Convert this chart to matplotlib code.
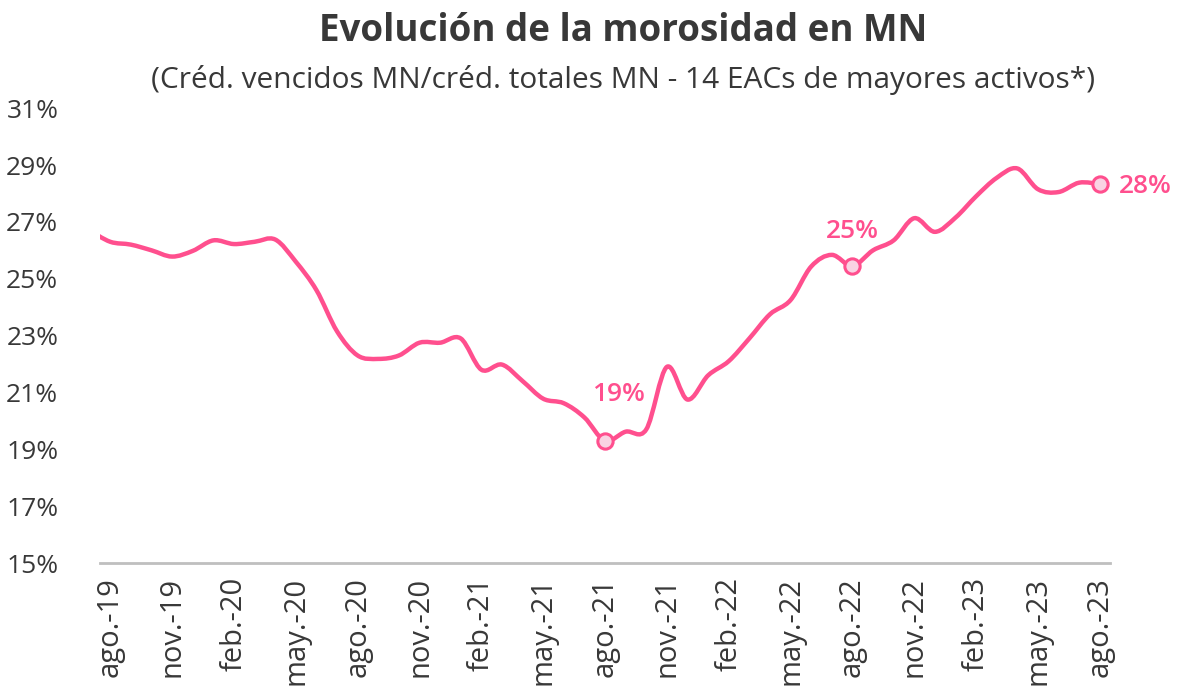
import matplotlib.pyplot as plt
import numpy as np
from matplotlib.path import Path
from matplotlib.patches import PathPatch

plt.rcParams['font.family'] = ['Open Sans', 'DejaVu Sans']

# serie mensual jul-19 .. ago-23 (en %)
months = ['jul.-19',
          'ago.-19', 'sep.-19', 'oct.-19', 'nov.-19', 'dic.-19', 'ene.-20',
          'feb.-20', 'mar.-20', 'abr.-20', 'may.-20', 'jun.-20', 'jul.-20',
          'ago.-20', 'sep.-20', 'oct.-20', 'nov.-20', 'dic.-20', 'ene.-21',
          'feb.-21', 'mar.-21', 'abr.-21', 'may.-21', 'jun.-21', 'jul.-21',
          'ago.-21', 'sep.-21', 'oct.-21', 'nov.-21', 'dic.-21', 'ene.-22',
          'feb.-22', 'mar.-22', 'abr.-22', 'may.-22', 'jun.-22', 'jul.-22',
          'ago.-22', 'sep.-22', 'oct.-22', 'nov.-22', 'dic.-22', 'ene.-23',
          'feb.-23', 'mar.-23', 'abr.-23', 'may.-23', 'jun.-23', 'jul.-23',
          'ago.-23']
morosidad = [26.7,
             26.3, 26.2, 26.0, 25.78, 25.98, 26.35,
             26.22, 26.3, 26.38, 25.6, 24.6, 23.15,
             22.3, 22.18, 22.3, 22.75, 22.75, 22.9,
             21.8, 21.98, 21.4, 20.78, 20.62, 20.12,
             19.3, 19.62, 19.7, 21.9, 20.75, 21.6,
             22.1, 22.9, 23.75, 24.25, 25.43, 25.84,
             25.45, 26.0, 26.35, 27.13, 26.65, 27.15,
             27.9, 28.55, 28.88, 28.15, 28.05, 28.38,
             28.33]
shown_ticks = ['ago.-19', 'nov.-19', 'feb.-20', 'may.-20', 'ago.-20', 'nov.-20',
               'feb.-21', 'may.-21', 'ago.-21', 'nov.-21', 'feb.-22', 'may.-22',
               'ago.-22', 'nov.-22', 'feb.-23', 'may.-23', 'ago.-23']

pink = '#FF4F8E'
grey_txt = '#383838'

x = np.arange(len(months)) - 1   # ago.-19 en x = 0
y = np.array(morosidad)


def smooth_path(xs, ys):
    # curva suavizada tipo Excel (Catmull-Rom -> Bezier)
    verts = [(xs[0], ys[0])]
    codes = [Path.MOVETO]
    n = len(xs)
    for i in range(n - 1):
        p0 = (xs[max(i - 1, 0)], ys[max(i - 1, 0)])
        p1 = (xs[i], ys[i])
        p2 = (xs[i + 1], ys[i + 1])
        p3 = (xs[min(i + 2, n - 1)], ys[min(i + 2, n - 1)])
        c1 = (p1[0] + (p2[0] - p0[0]) / 6, p1[1] + (p2[1] - p0[1]) / 6)
        c2 = (p2[0] - (p3[0] - p1[0]) / 6, p2[1] - (p3[1] - p1[1]) / 6)
        verts += [c1, c2, p2]
        codes += [Path.CURVE4] * 3
    return Path(verts, codes)


fig = plt.figure(figsize=(11.86, 6.98), dpi=100)
ax = fig.add_axes([0.0843, 0.1934, 0.8517, 0.6516])

ax.add_patch(PathPatch(smooth_path(x, y), facecolor='none', edgecolor=pink,
                       lw=3.2, capstyle='round', joinstyle='round', zorder=3))

# puntos destacados con etiqueta
for lab, off, ha in [('ago.-21', (10, 33), 'center'),
                     ('ago.-22', (0, 25), 'center'),
                     ('ago.-23', (14, -2), 'left')]:
    i = months.index(lab)
    ax.plot(x[i], y[i], 'o', ms=11, mfc='#F9D3E3', mec=pink, mew=2.2, zorder=4)
    ax.annotate(f'{y[i]:.0f}%', (x[i], y[i]), xytext=off, textcoords='offset points',
                ha=ha, va='center', color=pink, fontsize=19, fontweight='semibold')

ax.set_xlim(-0.5, len(months) - 1.5)
ax.set_ylim(15, 31)
ax.set_yticks(np.arange(15, 32, 2))
ax.set_yticklabels([f'{v}%' for v in range(15, 32, 2)], fontsize=19, color=grey_txt)
tick_pos = [months.index(m) - 1 for m in shown_ticks]
ax.set_xticks(tick_pos)
ax.set_xticklabels(shown_ticks, rotation=90, fontsize=21, color=grey_txt)
ax.tick_params(axis='both', length=0)
ax.tick_params(axis='y', pad=30)
ax.tick_params(axis='x', pad=10)

for s in ['top', 'right', 'left']:
    ax.spines[s].set_visible(False)
ax.spines['bottom'].set_color('#BFBFBF')
ax.spines['bottom'].set_linewidth(2)

fig.text(0.525, 0.955, 'Evolución de la morosidad en MN', ha='center', va='center',
         fontsize=26.5, fontweight='bold', color=grey_txt)
fig.text(0.525, 0.886, '(Créd. vencidos MN/créd. totales MN - 14 EACs de mayores activos*)',
         ha='center', va='center', fontsize=21.5, color=grey_txt)

fig.savefig('out.png', dpi=100)
